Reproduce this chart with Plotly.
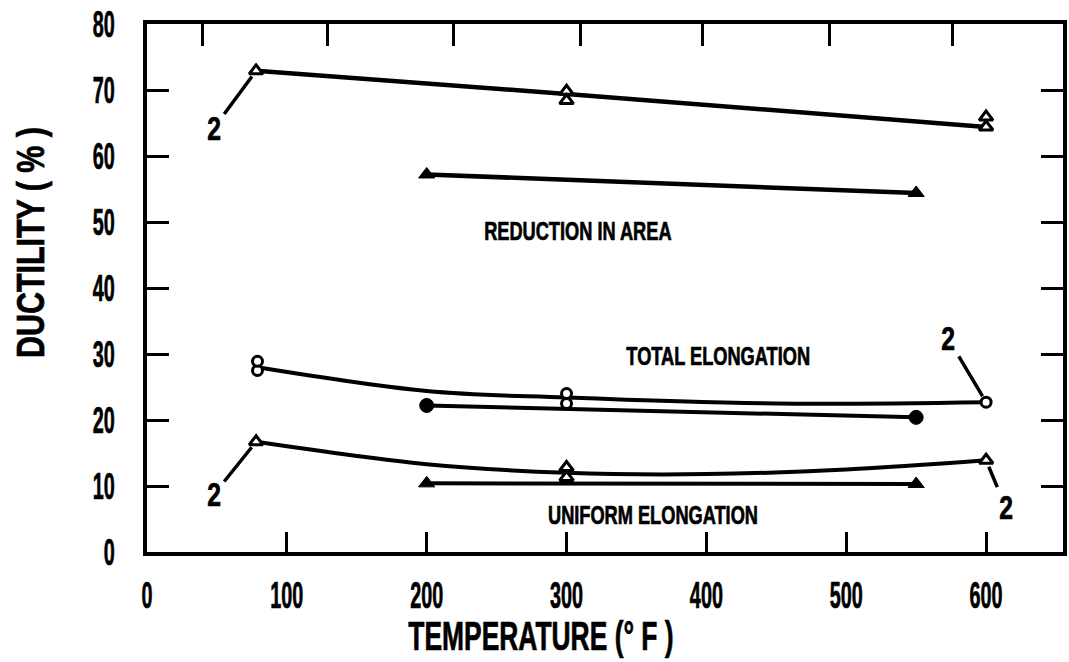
import plotly.graph_objects as go

# ---------------- data ----------------
x_ticks = [0, 100, 200, 300, 400, 500, 600]
y_ticks = [0, 10, 20, 30, 40, 50, 60, 70, 80]
top_ticks = [40, 129, 219, 310, 397, 488, 576]

# Reduction in area, specimen group with open triangles
ra_open_x = [78, 300, 300, 600, 600]
ra_open_y = [72.9, 69.8, 68.4, 65.9, 64.4]
ra_open_line_x = [78, 300, 600]
ra_open_line_y = [72.9, 69.4, 64.4]
# Reduction in area, filled triangles
ra_fill_x = [200, 550]
ra_fill_y = [57.2, 54.4]

# Total elongation, open circles
te_open_x = [79, 79, 300, 300, 600]
te_open_y = [27.5, 28.9, 22.5, 24.0, 22.7]
te_open_line_x = [79, 200, 300, 450, 600]
te_open_line_y = [28.0, 24.4, 23.4, 22.5, 22.7]
# Total elongation, filled circles
te_fill_x = [200, 550]
te_fill_y = [22.2, 20.4]

# Uniform elongation, open triangles
ue_open_x = [78, 300, 300, 600]
ue_open_y = [16.7, 12.8, 11.3, 13.9]
ue_open_line_x = [78, 200, 300, 400, 500, 600]
ue_open_line_y = [16.7, 13.3, 12.0, 11.8, 12.5, 13.9]
# Uniform elongation, filled triangles
ue_fill_x = [200, 550]
ue_fill_y = [10.4, 10.3]

FONT = "Liberation Sans Narrow, Liberation Sans, Arial, sans-serif"
BLACK = "black"

fig = go.Figure()

def line(x, y, shape="linear", width=4.5):
    fig.add_trace(go.Scatter(x=x, y=y, mode="lines", showlegend=False,
                             line=dict(color=BLACK, width=width, shape=shape, smoothing=1.0),
                             hoverinfo="skip"))

def marks(x, y, symbol, size=13, filled=True, lw=3):
    fig.add_trace(go.Scatter(x=x, y=y, mode="markers", showlegend=False,
                             marker=dict(symbol=symbol, size=size,
                                         color=BLACK if filled else "white",
                                         line=dict(color=BLACK, width=lw))))

# reduction in area
line(ra_open_line_x, ra_open_line_y)
line(ra_fill_x, ra_fill_y)
marks(ra_open_x, ra_open_y, "triangle-up", 12, False, 3)
marks(ra_fill_x, ra_fill_y, "triangle-up", 14, True, 1)
# total elongation
line(te_open_line_x, te_open_line_y, "spline", 4)
line(te_fill_x, te_fill_y, "linear", 4)
marks(te_open_x, te_open_y, "circle", 10, False, 3)
marks(te_fill_x, te_fill_y, "circle", 14, True, 1)
# uniform elongation
line(ue_open_line_x, ue_open_line_y, "spline", 4)
line(ue_fill_x, ue_fill_y, "linear", 4)
marks(ue_open_x, ue_open_y, "triangle-up", 12, False, 3)
marks(ue_fill_x, ue_fill_y, "triangle-up", 14, True, 1)

# invisible trace to activate top axis
fig.add_trace(go.Scatter(x=[0], y=[0], xaxis="x2", mode="markers",
                         marker=dict(opacity=0), showlegend=False, hoverinfo="skip"))

# ---------------- text labels ----------------
labels = [
    ("REDUCTION IN AREA", 308, 48.6),
    ("TOTAL ELONGATION", 408, 29.7),
    ("UNIFORM ELONGATION", 362, 5.6),
]
for txt, xx, yy in labels:
    fig.add_annotation(x=xx, y=yy, text=txt, showarrow=False,
                       font=dict(family=FONT, size=26, color=BLACK, weight="bold"))

# "2" callouts: (point x, point y, text x, text y)
callouts = [
    (78, 72.9, 47.7, 64.2),
    (600, 22.7, 573, 32.3),
    (78, 16.7, 47.7, 8.7),
    (600, 13.9, 614, 6.8),
]
for px, py, tx, ty in callouts:
    fig.add_annotation(x=px, y=py, ax=tx, ay=ty, axref="x", ayref="y",
                       text="2", showarrow=True, arrowhead=0, arrowwidth=3.5,
                       arrowcolor=BLACK, standoff=7,
                       font=dict(family=FONT, size=33, color=BLACK, weight="bold"))

# axis titles
fig.add_annotation(xref="paper", yref="paper", x=0.43, y=-0.159,
                   text="TEMPERATURE (° F )", showarrow=False,
                   xanchor="center", yanchor="middle",
                   font=dict(family=FONT, size=40, color=BLACK, weight="bold"))
fig.add_annotation(xref="paper", yref="paper", x=-0.127, y=0.587,
                   text="DUCTILITY ( % )", showarrow=False, textangle=-90,
                   xanchor="center", yanchor="middle",
                   font=dict(family=FONT, size=38, color=BLACK, weight="bold"))

tickfont = dict(family=FONT, size=36, color=BLACK, weight="bold")
fig.update_layout(
    width=1069, height=662,
    margin=dict(l=147, r=2, t=24, b=110),
    paper_bgcolor="white", plot_bgcolor="white",
    showlegend=False,
    xaxis=dict(range=[0, 655], tickvals=x_ticks, ticktext=[str(v) for v in x_ticks],
               showline=True, linecolor=BLACK, linewidth=4, mirror=True,
               ticks="inside", ticklen=20, tickwidth=3, tickcolor=BLACK,
               showgrid=False, zeroline=False, tickfont=tickfont,
               ticklabelstandoff=9),
    xaxis2=dict(range=[0, 655], overlaying="x", side="top", tickvals=top_ticks,
                ticks="inside", ticklen=22, tickwidth=3, tickcolor=BLACK,
                showticklabels=False, showgrid=False, zeroline=False, showline=False),
    yaxis=dict(range=[0, 80], tickvals=y_ticks, ticktext=[str(v) for v in y_ticks],
               showline=True, linecolor=BLACK, linewidth=4, mirror="ticks",
               ticks="inside", ticklen=22, tickwidth=3, tickcolor=BLACK,
               showgrid=False, zeroline=False, tickfont=tickfont,
               ticklabelstandoff=21),
)

# Condense the lettering horizontally (the reference uses a narrow typeface)
post_script = """
(function(){
  var gd = document.getElementById('{plot_id}');
  function squeeze(){
    if(!gd) return;
    gd.querySelectorAll('text').forEach(function(t){
      if (t.getAttribute('data-sq')) return;
      var txt = t.textContent || '';
      var f = 0.7;
      if (t.closest('.xtick') || t.closest('.ytick')) f = 0.55;
      else if (txt.indexOf('TEMPERATURE') === 0) f = 0.66;
      else if (txt.indexOf('DUCTILITY') === 0) f = 0.8;
      else if (txt === '2') f = 0.75;
      var w = t.getComputedTextLength();
      if (!w) return;
      t.setAttribute('textLength', (w * f).toFixed(2));
      t.setAttribute('lengthAdjust', 'spacingAndGlyphs');
      t.style.stroke = 'black';
      t.style.strokeWidth = '0.7px';
      t.setAttribute('data-sq', '1');
    });
  }
  squeeze();
  if (gd && gd.on) gd.on('plotly_afterplot', squeeze);
  setTimeout(squeeze, 30);
  setTimeout(squeeze, 300);
})();
"""

fig.write_html("out.html", post_script=post_script)
